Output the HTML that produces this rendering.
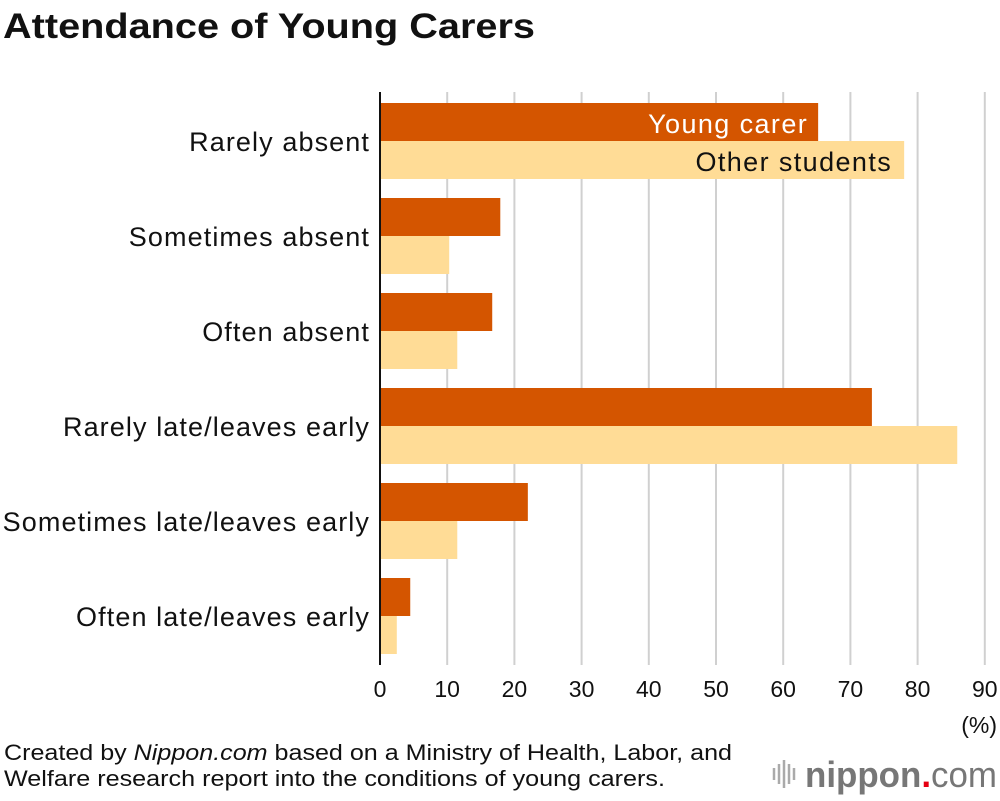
<!DOCTYPE html>
<html><head><meta charset="utf-8"><style>
body{margin:0;background:#fff;font-family:"Liberation Sans",sans-serif;}
svg text{font-family:"Liberation Sans",sans-serif;}
</style></head><body>
<svg id="c" width="1000" height="796" xmlns="http://www.w3.org/2000/svg">
<text x="3" y="38" font-size="35" font-weight="bold" fill="#111" textLength="532" lengthAdjust="spacingAndGlyphs">Attendance of Young Carers</text>
<g id="grid"></g><g id="bars"></g><g id="labels"></g>
<line x1="380" y1="92" x2="380" y2="665" stroke="#111" stroke-width="2"/>
<text x="997" y="733" font-size="23" text-anchor="end" fill="#111">(%)</text>
<text x="4" y="760" font-size="22" fill="#111" textLength="728" lengthAdjust="spacingAndGlyphs">Created by <tspan font-style="italic">Nippon.com</tspan> based on a Ministry of Health, Labor, and</text>
<text x="4" y="786" font-size="22" fill="#111" textLength="661" lengthAdjust="spacingAndGlyphs">Welfare research report into the conditions of young carers.</text>
<g>
<g stroke="#aaa" stroke-width="2.5"><line x1="774" y1="768" x2="774" y2="780"/><line x1="779" y1="764" x2="779" y2="784"/><line x1="784" y1="760" x2="784" y2="788"/><line x1="789" y1="764" x2="789" y2="784"/><line x1="794" y1="768" x2="794" y2="780"/></g>
<text x="805" y="787" font-size="36" font-weight="bold" fill="#777" textLength="192" lengthAdjust="spacingAndGlyphs">nippon<tspan fill="#e60012">.</tspan><tspan font-weight="normal">com</tspan></text>
</g>
</svg>
<script>
const categories=["Rarely absent","Sometimes absent","Often absent","Rarely late/leaves early","Sometimes late/leaves early","Often late/leaves early"];
const youngCarer=[65.2,17.9,16.7,73.2,22.0,4.5];
const otherStudents=[78.0,10.3,11.5,85.9,11.5,2.5];
const ticks=[0,10,20,30,40,50,60,70,80,90];
const NS="http://www.w3.org/2000/svg";
const x=v=>380+v*6.72;
const gy=i=>103+i*95;
function mk(t,a,p){const e=document.createElementNS(NS,t);for(const k in a)e.setAttribute(k,a[k]);p.appendChild(e);return e;}
const grid=document.getElementById('grid'),bars=document.getElementById('bars'),labels=document.getElementById('labels');
ticks.forEach(t=>{
 if(t>0){const l=mk('line',{x1:x(t),x2:x(t),y1:92,y2:665,stroke:'#d0d0d0','stroke-width':2},grid);
 
 }
 const tx=mk('text',{x:x(t),y:697,'font-size':23,'text-anchor':'middle',fill:'#111'},labels);tx.textContent=t;
 
 
});
categories.forEach((c,i)=>{
 const a=mk('rect',{x:380,y:gy(i),width:x(youngCarer[i])-380,height:38,fill:'#d45500'},bars);
 
 
 const b=mk('rect',{x:380,y:gy(i)+38,width:x(otherStudents[i])-380,height:38,fill:'#ffdc96'},bars);
 
 
 const t=mk('text',{x:370,y:gy(i)+48,'font-size':27,'letter-spacing':1.1,'text-anchor':'end',fill:'#111'},labels);t.textContent=c;
 
 
});
const l1=mk('text',{x:x(youngCarer[0])-10,y:gy(0)+30,'font-size':27,'letter-spacing':1.4,'text-anchor':'end',fill:'#fff'},labels);l1.textContent='Young carer';


const l2=mk('text',{x:x(otherStudents[0])-12,y:gy(0)+68,'font-size':27,'letter-spacing':1.4,'text-anchor':'end',fill:'#111'},labels);l2.textContent='Other students';


</script>
</body></html>
